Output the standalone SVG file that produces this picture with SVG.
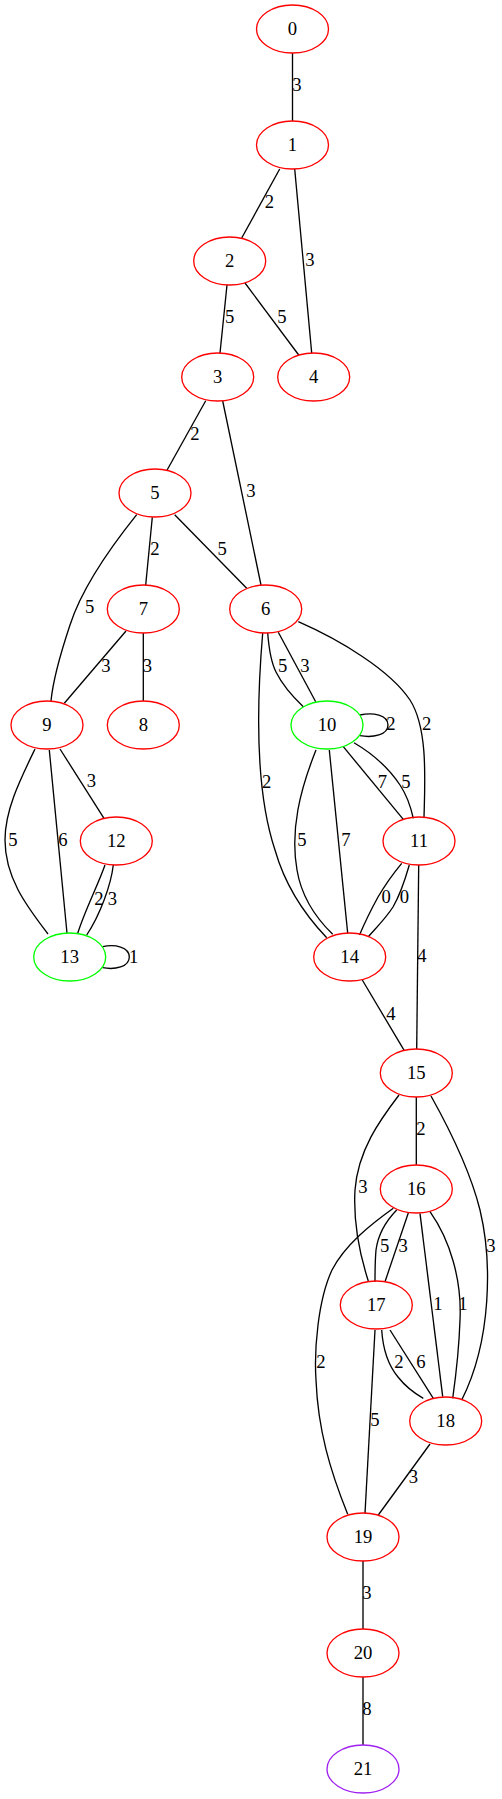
<svg xmlns="http://www.w3.org/2000/svg" width="502" height="1799" viewBox="0 0 502 1799">
<style>
.n ellipse{fill:none;stroke:#ff0000;stroke-width:1.33}
.n.g ellipse{stroke:#00ff00}
.n.p ellipse{stroke:#a020f0}
.n text{font-family:"Liberation Serif","Times New Roman",serif;font-size:18.67px;text-anchor:middle;fill:#000}
#edges path{fill:none;stroke:#000;stroke-width:1.33}
#edges text{font-family:"Liberation Serif","Times New Roman",serif;font-size:18.67px;text-anchor:middle;fill:#000}
</style>
<rect width="502" height="1799" fill="#fff"/>
<g id="edges">
<path d="M292.5,53 L292.5,121"/><text x="297" y="91">3</text>
<path d="M279.7,169 L241.7,238"/><text x="269.5" y="208">2</text>
<path d="M294.7,169 L311.7,353"/><text x="310" y="265.7">3</text>
<path d="M227,285 L220,353"/><text x="229.7" y="323">5</text>
<path d="M245,283 L298.7,355"/><text x="281.8" y="323">5</text>
<path d="M205.7,400.7 L166.7,470.7"/><text x="194.8" y="440">2</text>
<path d="M222.7,401 L261,585"/><text x="250.8" y="497">3</text>
<path d="M136.7,514.7 C110,548 82,588 70,625 C60,655 53,680 51,701"/><text x="89.7" y="613">5</text>
<path d="M152.3,517.3 L145.7,585"/><text x="155" y="555">2</text>
<path d="M174.7,514.7 L246.7,588.3"/><text x="222.2" y="555">5</text>
<path d="M126,631 L64.3,703.3"/><text x="105.8" y="671.7">3</text>
<path d="M143.3,633 L143.3,701"/><text x="147.5" y="671.7">3</text>
<path d="M267.7,633 C269,650 271,662 276,672 C282,684 293,697 303.3,706.7"/><text x="282.7" y="671.7">5</text>
<path d="M278.3,632.3 L315.7,701.7"/><text x="304.8" y="671.7">3</text>
<path d="M262.7,633 C257,700 255,790 275,850 C285,885 305,915 326.7,937.7"/><text x="266.7" y="788">2</text>
<path d="M298.3,621.7 C340,640 390,670 410,700 C428,728 425,780 424,817.3"/><text x="426.7" y="730">2</text>
<path d="M360,715 C373,712 388,715 388,725 C388,735 373,738 360,735.7"/><text x="391" y="730">2</text>
<path d="M343.3,746.7 L403.3,819.3"/><text x="382.5" y="788">7</text>
<path d="M354,742.7 C375,755 390,770 400,785 C408,797 411,808 413.3,818.3"/><text x="405.8" y="788">5</text>
<path d="M316,750 C300,790 290,830 297,870 C302,900 318,920 332.7,934.3"/><text x="301.8" y="846">5</text>
<path d="M329.3,750 L347.7,933.3"/><text x="346" y="846">7</text>
<path d="M401.7,863.3 C392,875 385,885 378,897 C372,908 365,922 359.5,935"/><text x="386.2" y="903">0</text>
<path d="M409.3,865 C405,880 400,895 393,907 C386,918 376,928 368.3,936.7"/><text x="404.5" y="903">0</text>
<path d="M418.7,865 L416.7,1049.3"/><text x="422" y="961.7">4</text>
<path d="M35,749 C20,780 5,810 5,840 C5,880 30,910 48,934"/><text x="13" y="846">5</text>
<path d="M49.3,750 L67,933.3"/><text x="62.8" y="846">6</text>
<path d="M60,749 L104,818.3"/><text x="91.5" y="787.3">3</text>
<path d="M105,865 C98,885 85,910 77.7,933.3"/><text x="99" y="905">2</text>
<path d="M113.3,865 C111,885 100,915 86.7,935"/><text x="112.5" y="905">3</text>
<path d="M102.7,946.7 C115,944 129.3,947 129.3,957 C129.3,967 115,970 102.7,967.7"/><text x="133.7" y="962.7">1</text>
<path d="M362.3,980 L404.3,1050.7"/><text x="391" y="1020">4</text>
<path d="M416.3,1097 L416.3,1165"/><text x="420.8" y="1135">2</text>
<path d="M399,1095 C380,1120 358,1150 355,1190 C353,1225 360,1255 368.3,1281"/><text x="363" y="1193">3</text>
<path d="M431,1096 C450,1130 470,1170 480,1210 C492,1260 492,1340 461.7,1400"/><text x="490.8" y="1251.7">3</text>
<path d="M396.7,1210 C385,1222 378,1235 376,1250 C375,1262 375,1272 375,1281.7"/><text x="384.7" y="1251.7">5</text>
<path d="M408.3,1213 L385,1281.7"/><text x="403.2" y="1251.7">3</text>
<path d="M393.3,1208.3 C370,1225 345,1245 332,1270 C318,1300 314,1350 316,1380 C318,1430 330,1470 347.7,1514.3"/><text x="320.8" y="1368.3">2</text>
<path d="M420,1213.3 L442.7,1396.7"/><text x="438" y="1310">1</text>
<path d="M430,1211.7 C450,1240 462,1280 460,1320 C459,1350 456,1375 452.7,1398.3"/><text x="462.8" y="1310">1</text>
<path d="M381.7,1330 C383,1350 388,1365 398,1377 C405,1386 414,1393 423.3,1398.3"/><text x="398.8" y="1368.3">2</text>
<path d="M390,1330 L433.3,1398.3"/><text x="420.8" y="1368.3">6</text>
<path d="M375,1330 L365,1513.3"/><text x="374.8" y="1426">5</text>
<path d="M430,1444 L378.3,1515"/><text x="413.5" y="1483.3">3</text>
<path d="M363,1561 L363,1629"/><text x="367" y="1599.3">3</text>
<path d="M363,1677 L363,1745"/><text x="367" y="1715">8</text>
</g>
<g id="node0" class="n"><ellipse cx="292.5" cy="29" rx="36" ry="24"/><text x="292.5" y="34.5">0</text></g>
<g id="node1" class="n"><ellipse cx="292.5" cy="145" rx="36" ry="24"/><text x="292.5" y="150.5">1</text></g>
<g id="node2" class="n"><ellipse cx="229.7" cy="261" rx="36" ry="24"/><text x="229.7" y="266.5">2</text></g>
<g id="node3" class="n"><ellipse cx="217.7" cy="377" rx="36" ry="24"/><text x="217.7" y="382.5">3</text></g>
<g id="node4" class="n"><ellipse cx="313.7" cy="377" rx="36" ry="24"/><text x="313.7" y="382.5">4</text></g>
<g id="node5" class="n"><ellipse cx="155" cy="493" rx="36" ry="24"/><text x="155" y="498.5">5</text></g>
<g id="node6" class="n"><ellipse cx="265.7" cy="609" rx="36" ry="24"/><text x="265.7" y="614.5">6</text></g>
<g id="node7" class="n"><ellipse cx="143.3" cy="609" rx="36" ry="24"/><text x="143.3" y="614.5">7</text></g>
<g id="node8" class="n"><ellipse cx="143.3" cy="725" rx="36" ry="24"/><text x="143.3" y="730.5">8</text></g>
<g id="node9" class="n"><ellipse cx="47" cy="725" rx="36" ry="24"/><text x="47" y="730.5">9</text></g>
<g id="node10" class="n g"><ellipse cx="327" cy="725" rx="36" ry="24"/><text x="327" y="730.5">10</text></g>
<g id="node11" class="n"><ellipse cx="419" cy="841" rx="36" ry="24"/><text x="419" y="846.5">11</text></g>
<g id="node12" class="n"><ellipse cx="116.3" cy="841" rx="36" ry="24"/><text x="116.3" y="846.5">12</text></g>
<g id="node13" class="n g"><ellipse cx="69.7" cy="957" rx="36" ry="24"/><text x="69.7" y="962.5">13</text></g>
<g id="node14" class="n"><ellipse cx="349.7" cy="957" rx="36" ry="24"/><text x="349.7" y="962.5">14</text></g>
<g id="node15" class="n"><ellipse cx="416.3" cy="1073" rx="36" ry="24"/><text x="416.3" y="1078.5">15</text></g>
<g id="node16" class="n"><ellipse cx="416.3" cy="1189" rx="36" ry="24"/><text x="416.3" y="1194.5">16</text></g>
<g id="node17" class="n"><ellipse cx="376.3" cy="1305" rx="36" ry="24"/><text x="376.3" y="1310.5">17</text></g>
<g id="node18" class="n"><ellipse cx="445.7" cy="1421" rx="36" ry="24"/><text x="445.7" y="1426.5">18</text></g>
<g id="node19" class="n"><ellipse cx="363" cy="1537" rx="36" ry="24"/><text x="363" y="1542.5">19</text></g>
<g id="node20" class="n"><ellipse cx="363" cy="1653" rx="36" ry="24"/><text x="363" y="1658.5">20</text></g>
<g id="node21" class="n p"><ellipse cx="363" cy="1769" rx="36" ry="24"/><text x="363" y="1774.5">21</text></g>
</svg>
